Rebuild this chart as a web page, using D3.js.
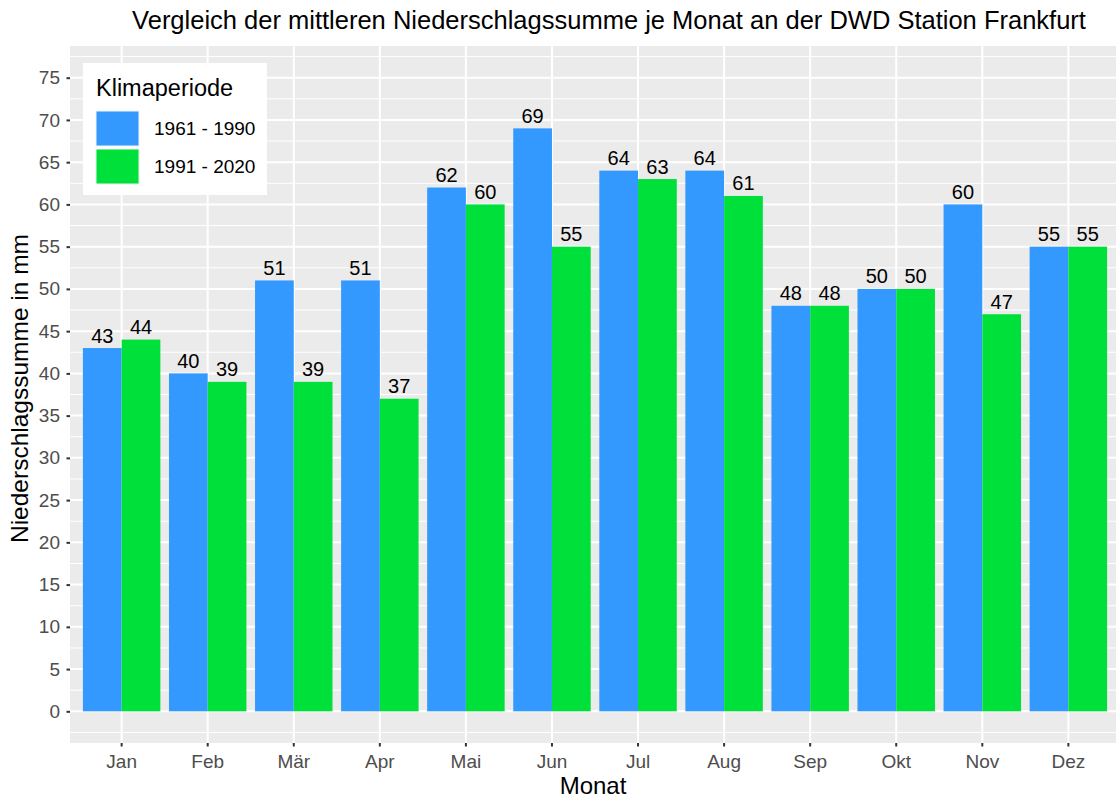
<!DOCTYPE html>
<html>
<head>
<meta charset="utf-8">
<script src="https://cdn.jsdelivr.net/npm/d3@7"></script>
<style>
  body { margin: 0; background: #fff; }
  svg { display: block; font-family: "Liberation Sans", Arial, sans-serif; }
</style>
</head>
<body>
<svg id="chart" width="1116" height="800"></svg>
<script>
const months = ["Jan", "Feb", "Mär", "Apr", "Mai", "Jun", "Jul", "Aug", "Sep", "Okt", "Nov", "Dez"];
const periods = ["1961 - 1990", "1991 - 2020"];
const precip6190 = [43, 40, 51, 51, 62, 69, 64, 64, 48, 50, 60, 55];
const precip9120 = [44, 39, 39, 37, 60, 55, 63, 61, 48, 50, 47, 55];
const yTicks = d3.range(0, 80, 5);
const yMinor = d3.range(-2.5, 80, 5);

const periodColors = ["#3399FF", "#00E03A"];

const rows = months.flatMap((m, i) => [
    {month: m, period: periods[0], value: precip6190[i]},
    {month: m, period: periods[1], value: precip9120[i]}
]);

const svg = d3.select("#chart");
const panel = {left: 70, right: 1120, top: 46, bottom: 743};

const x = d3.scaleBand()
    .domain(months)
    .range([panel.left, panel.right])
    .paddingInner(0.1)
    .paddingOuter(0.15);

const xSub = d3.scaleBand()
    .domain(periods)
    .range([0, x.bandwidth()]);

const y = d3.scaleLinear()
    .domain([-3.75, 78.75])
    .range([panel.bottom, panel.top]);

const color = d3.scaleOrdinal().domain(periods).range(periodColors);

const xCenter = m => x(m) + x.bandwidth() / 2;

// panel background + grid
svg.append("rect")
    .attr("x", panel.left).attr("y", panel.top)
    .attr("width", panel.right - panel.left).attr("height", panel.bottom - panel.top)
    .attr("fill", "#EBEBEB");

svg.append("g").selectAll("line")
    .data(yMinor)
    .enter().append("line")
    .attr("x1", panel.left).attr("x2", panel.right)
    .attr("y1", d => y(d)).attr("y2", d => y(d))
    .attr("stroke", "#fff").attr("stroke-width", 1);

svg.append("g").selectAll("line")
    .data(yTicks)
    .enter().append("line")
    .attr("x1", panel.left).attr("x2", panel.right)
    .attr("y1", d => y(d)).attr("y2", d => y(d))
    .attr("stroke", "#fff").attr("stroke-width", 2);

svg.append("g").selectAll("line")
    .data(months)
    .enter().append("line")
    .attr("x1", d => xCenter(d)).attr("x2", d => xCenter(d))
    .attr("y1", panel.top).attr("y2", panel.bottom)
    .attr("stroke", "#fff").attr("stroke-width", 2);

// bars
svg.append("g").selectAll("rect")
    .data(rows)
    .enter().append("rect")
    .attr("x", d => x(d.month) + xSub(d.period))
    .attr("y", d => y(d.value))
    .attr("width", xSub.bandwidth())
    .attr("height", d => y(0) - y(d.value))
    .attr("fill", d => color(d.period));

svg.append("g").selectAll("text")
    .data(rows)
    .enter().append("text")
    .attr("x", d => x(d.month) + xSub(d.period) + xSub.bandwidth() / 2)
    .attr("y", d => y(d.value) - 5.5)
    .attr("text-anchor", "middle")
    .attr("font-size", 20)
    .attr("fill", "#000")
    .text(d => d.value);

// axes
const yAxis = svg.append("g")
    .attr("transform", `translate(${panel.left},0)`)
    .call(d3.axisLeft(y).tickValues(yTicks).tickSize(3.5).tickPadding(6.5));
yAxis.select(".domain").remove();
yAxis.selectAll(".tick line").attr("stroke", "#333").attr("stroke-width", 2);
yAxis.selectAll(".tick text").attr("font-size", 19).attr("fill", "#4D4D4D").attr("font-family", null);

const xAxis = svg.append("g")
    .attr("transform", `translate(0,${panel.bottom})`)
    .call(d3.axisBottom(x).tickSize(3.5).tickPadding(8));
xAxis.select(".domain").remove();
xAxis.selectAll(".tick line").attr("stroke", "#333").attr("stroke-width", 2);
xAxis.selectAll(".tick text").attr("font-size", 19).attr("fill", "#4D4D4D").attr("font-family", null);

// titles
svg.append("text")
    .attr("x", 609).attr("y", 29)
    .attr("text-anchor", "middle")
    .attr("font-size", 25.5)
    .attr("fill", "#000")
    .text("Vergleich der mittleren Niederschlagssumme je Monat an der DWD Station Frankfurt");

svg.append("text")
    .attr("x", (panel.left + panel.right) / 2 - 2).attr("y", 794)
    .attr("text-anchor", "middle")
    .attr("font-size", 24)
    .attr("fill", "#000")
    .text("Monat");

svg.append("text")
    .attr("transform", `translate(28,${(panel.top + panel.bottom) / 2 - 6}) rotate(-90)`)
    .attr("text-anchor", "middle")
    .attr("font-size", 24.5)
    .attr("fill", "#000")
    .text("Niederschlagssumme in mm");

// legend
const legend = svg.append("g").attr("transform", "translate(83,63)");
legend.append("rect")
    .attr("width", 184).attr("height", 132)
    .attr("fill", "#fff");
legend.append("text")
    .attr("x", 13).attr("y", 33)
    .attr("font-size", 23.5)
    .attr("fill", "#000")
    .text("Klimaperiode");

const keys = legend.selectAll("g.key")
    .data(periods)
    .enter().append("g")
    .attr("class", "key")
    .attr("transform", (d, i) => `translate(13,${48 + i * 38})`);
keys.append("rect")
    .attr("width", 43).attr("height", 35)
    .attr("fill", d => color(d))
    .attr("stroke", "#F2F2F2").attr("stroke-width", 1);
keys.append("text")
    .attr("x", 58).attr("y", 17.5)
    .attr("dy", "0.35em")
    .attr("font-size", 19)
    .attr("fill", "#000")
    .text(d => d);
</script>
</body>
</html>
